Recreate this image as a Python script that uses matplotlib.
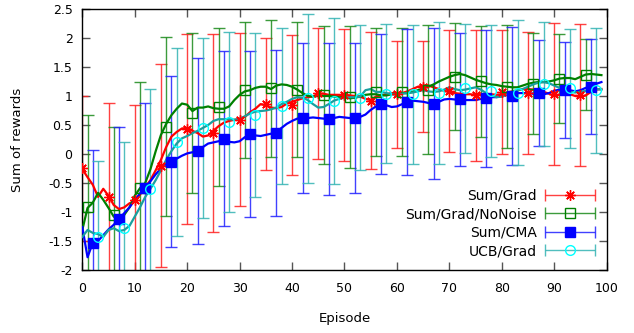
import numpy as np
import matplotlib
matplotlib.use("Agg")
import matplotlib.pyplot as plt
from matplotlib.container import ErrorbarContainer
from matplotlib.legend_handler import HandlerErrorbar
from matplotlib.ticker import FuncFormatter

# ---------------- data ----------------
episodes = list(range(100))

sum_grad_line = [
    -0.26, -0.40, -0.53, -0.74, -0.60, -0.72, -0.88, -0.95, -0.92, -0.85,
    -0.82, -0.70, -0.57, -0.45, -0.28, -0.10, 0.12, 0.30, 0.38, 0.44,
    0.45, 0.40, 0.36, 0.30, 0.32, 0.40, 0.48, 0.54, 0.57, 0.59,
    0.60, 0.64, 0.72, 0.78, 0.86, 0.84, 0.80, 0.79, 0.81, 0.87,
    0.90, 0.93, 0.96, 0.98, 0.99, 1.04, 1.04, 1.02, 1.02, 1.02,
    1.02, 1.01, 1.00, 0.99, 0.95, 0.93, 0.99, 1.01, 1.03, 1.05,
    1.05, 1.05, 1.08, 1.12, 1.16, 1.18, 1.18, 1.15, 1.12, 1.09,
    1.07, 1.05, 1.04, 1.03, 1.03, 1.02, 1.03, 1.03, 1.03, 1.02,
    1.03, 1.06, 1.08, 1.10, 1.12, 1.12, 1.11, 1.10, 1.07, 1.04,
    1.00, 1.02, 1.03, 1.03, 1.00, 0.98, 1.01, 1.07, 1.11, 1.12]

nonoise_line = [
    -1.31, -0.93, -0.84, -0.67, -0.79, -0.93, -1.08, -1.12, -1.05, -0.92,
    -0.72, -0.59, -0.50, -0.26, 0.05, 0.33, 0.52, 0.67, 0.78, 0.87,
    0.85, 0.74, 0.80, 0.80, 0.82, 0.79, 0.78, 0.78, 0.82, 0.93,
    1.02, 1.08, 1.10, 1.14, 1.16, 1.16, 1.12, 1.18, 1.20, 1.19,
    1.16, 1.11, 1.05, 1.00, 0.99, 1.00, 1.00, 1.00, 0.99, 0.98,
    0.98, 0.96, 0.97, 0.99, 1.02, 1.03, 1.03, 1.01, 1.01, 1.03,
    1.05, 1.05, 1.05, 1.07, 1.10, 1.13, 1.16, 1.20, 1.25, 1.29,
    1.33, 1.36, 1.38, 1.36, 1.32, 1.28, 1.25, 1.22, 1.20, 1.19,
    1.17, 1.16, 1.15, 1.15, 1.18, 1.21, 1.23, 1.24, 1.24, 1.25,
    1.27, 1.30, 1.31, 1.31, 1.29, 1.33, 1.37, 1.38, 1.37, 1.36]

cma_line = [
    -1.26, -1.78, -1.53, -1.50, -1.40, -1.30, -1.22, -1.12, -1.02, -0.92,
    -0.80, -0.68, -0.59, -0.47, -0.35, -0.25, -0.17, -0.14, -0.08, -0.03,
    0.01, 0.03, 0.04, 0.12, 0.18, 0.20, 0.22, 0.22, 0.21, 0.20,
    0.22, 0.29, 0.32, 0.32, 0.31, 0.33, 0.35, 0.38, 0.45, 0.52,
    0.57, 0.61, 0.62, 0.62, 0.63, 0.62, 0.61, 0.60, 0.62, 0.64,
    0.63, 0.62, 0.63, 0.64, 0.68, 0.76, 0.82, 0.86, 0.84, 0.81,
    0.82, 0.86, 0.90, 0.92, 0.91, 0.90, 0.88, 0.86, 0.90, 0.94,
    0.95, 0.94, 0.93, 0.93, 0.93, 0.93, 0.95, 0.97, 0.98, 0.98,
    1.00, 1.02, 1.04, 1.05, 1.05, 1.05, 1.04, 1.03, 1.03, 1.05,
    1.09, 1.11, 1.11, 1.10, 1.08, 1.10, 1.14, 1.17, 1.21, 1.24]

ucb_line = [
    -1.43, -1.31, -1.36, -1.38, -1.43, -1.31, -1.28, -1.33, -1.31, -1.24,
    -1.08, -0.92, -0.74, -0.60, -0.45, -0.28, -0.10, 0.05, 0.18, 0.27,
    0.31, 0.36, 0.40, 0.45, 0.50, 0.57, 0.60, 0.60, 0.60, 0.59,
    0.61, 0.65, 0.70, 0.73, 0.74, 0.75, 0.77, 0.80, 0.86, 0.90,
    0.95, 0.98, 0.97, 0.93, 0.86, 0.80, 0.81, 0.86, 0.92, 0.95,
    0.97, 0.98, 0.98, 0.99, 1.10, 1.12, 1.07, 1.07, 1.05, 1.03,
    1.02, 1.04, 1.05, 1.06, 1.08, 1.10, 1.08, 1.07, 1.08, 1.11,
    1.15, 1.12, 1.10, 1.11, 1.13, 1.15, 1.11, 1.05, 1.01, 0.98,
    0.99, 1.02, 1.07, 1.10, 1.12, 1.16, 1.20, 1.23, 1.24, 1.22,
    1.18, 1.14, 1.10, 1.07, 1.06, 1.07, 1.09, 1.10, 1.12, 1.11]

# error-bar samples (every 5 episodes, offset per series)
sum_grad_x = [0, 5, 10, 15, 20, 25, 30, 35, 40, 45, 50, 55, 60, 65, 70, 75, 80, 85, 90, 95]
sum_grad_mean = [-0.25, -0.74, -0.79, -0.20, 0.43, 0.36, 0.59, 0.86, 0.84, 1.05,
                 1.02, 0.92, 1.03, 1.16, 1.08, 1.01, 1.07, 1.05, 1.03, 1.02]
sum_grad_std = [1.25, 1.62, 1.63, 1.75, 1.64, 1.71, 1.49, 1.14, 1.21, 1.13,
                1.14, 1.18, 0.92, 0.78, 1.05, 1.13, 1.07, 1.05, 1.22, 1.22]

nonoise_x = [1, 6, 11, 16, 21, 26, 31, 36, 41, 46, 51, 56, 61, 66, 71, 76, 81, 86, 91, 96]
nonoise_mean = [-0.91, -1.05, -0.59, 0.47, 0.71, 0.81, 1.10, 1.13, 1.11, 1.02,
                0.98, 1.07, 1.07, 1.11, 1.33, 1.25, 1.16, 1.21, 1.30, 1.37]
nonoise_std = [1.58, 1.52, 1.83, 1.54, 1.38, 1.36, 1.17, 1.18, 1.16, 1.19,
               1.22, 1.10, 1.10, 1.11, 0.92, 0.96, 1.06, 0.87, 0.77, 0.61]

cma_x = [2, 7, 12, 17, 22, 27, 32, 37, 42, 47, 52, 57, 62, 67, 72, 77, 82, 87, 92, 97]
cma_mean = [-1.53, -1.12, -0.59, -0.13, 0.05, 0.26, 0.34, 0.36, 0.62, 0.60,
            0.62, 0.86, 0.90, 0.87, 0.94, 0.96, 1.00, 1.05, 1.10, 1.16]
cma_std = [1.60, 1.59, 1.47, 1.47, 1.60, 1.51, 1.43, 1.43, 1.29, 1.31,
           1.29, 1.21, 1.26, 1.30, 1.14, 1.18, 1.19, 0.91, 0.83, 0.82]

ucb_x = [3, 8, 13, 18, 23, 28, 33, 38, 43, 48, 53, 58, 63, 68, 73, 78, 83, 88, 93, 98]
ucb_mean = [-1.43, -1.27, -0.60, 0.21, 0.45, 0.55, 0.67, 0.83, 0.96, 0.91,
            0.97, 1.04, 1.03, 1.05, 1.13, 1.09, 1.06, 1.21, 1.13, 1.10]
ucb_std = [1.31, 1.48, 1.72, 1.62, 1.55, 1.55, 1.41, 1.35, 1.46, 1.43,
           1.25, 1.20, 1.20, 1.22, 1.11, 1.14, 1.25, 1.07, 1.03, 1.08]

labels = ["Sum/Grad", "Sum/Grad/NoNoise", "Sum/CMA", "UCB/Grad"]
x_ticks = [0, 10, 20, 30, 40, 50, 60, 70, 80, 90, 100]
y_ticks = [-2, -1.5, -1, -0.5, 0, 0.5, 1, 1.5, 2, 2.5]

# ---------------- plot ----------------
plt.rcParams['font.family'] = ['DejaVu Sans']
fig = plt.figure(figsize=(6.34, 3.33), dpi=100)
ax = fig.add_axes([0.1298, 0.1892, 0.8271, 0.7838])

series = [
    dict(line=sum_grad_line, x=sum_grad_x, m=sum_grad_mean, s=sum_grad_std,
         lc='#ff0000', ec='#ff2020', marker=(8, 2, 0), mfc='#ff0000', mec='#ff0000', ms=7.5),
    dict(line=nonoise_line, x=nonoise_x, m=nonoise_mean, s=nonoise_std,
         lc='#008000', ec='#1a8a1a', marker='s', mfc='none', mec='#008000', ms=7),
    dict(line=cma_line, x=cma_x, m=cma_mean, s=cma_std,
         lc='#0000ff', ec='#2020ff', marker='s', mfc='#0000ff', mec='#0000ff', ms=7.5),
    dict(line=ucb_line, x=ucb_x, m=ucb_mean, s=ucb_std,
         lc='#1a9f9f', ec='#33b3b3', marker='o', mfc='none', mec='#00ffff', ms=7),
]

handles = []
for i, sr in enumerate(series):
    cont = ax.errorbar(sr['x'], sr['m'], yerr=sr['s'],
                       ls='none', marker=sr['marker'], ms=sr['ms'],
                       mfc=sr['mfc'], mec=sr['mec'], mew=1.0,
                       ecolor=sr['ec'], elinewidth=1.0, capsize=4.5, capthick=1.0,
                       alpha=0.85, zorder=2)
    cont.lines[0].set_alpha(1.0)
    cont.lines[0].set_zorder(4)
    handles.append(ErrorbarContainer(cont.lines, has_xerr=True, has_yerr=False,
                                     label=labels[i]))

for sr in series:
    ax.plot(episodes, sr['line'], color=sr['lc'], lw=1.6, zorder=3)

ax.set_xlim(0, 100)
ax.set_ylim(-2, 2.5)
ax.set_xticks(x_ticks)
ax.set_yticks(y_ticks)
fmt = FuncFormatter(lambda v, p: ('%g' % v))
ax.xaxis.set_major_formatter(fmt)
ax.yaxis.set_major_formatter(fmt)
ax.tick_params(direction='in', length=6, width=1, color='#555555',
               top=True, right=True, labelsize=9)
ax.tick_params(axis='x', pad=9)
ax.tick_params(axis='y', pad=7)
for sp in ax.spines.values():
    sp.set_linewidth(1.0)
    sp.set_color('black')

ax.set_xlabel("Episode", fontsize=9.5, labelpad=12)
ax.set_ylabel("Sum of rewards", fontsize=9.5, labelpad=17)

leg = ax.legend(handles=handles, loc='lower right', frameon=False,
                markerfirst=False, fontsize=10, handlelength=3.6,
                handletextpad=0.6, labelspacing=0.33, borderaxespad=0.45,
                handler_map={ErrorbarContainer: HandlerErrorbar(xerr_size=1.8, numpoints=1)})

fig.savefig("out.png", dpi=100)
